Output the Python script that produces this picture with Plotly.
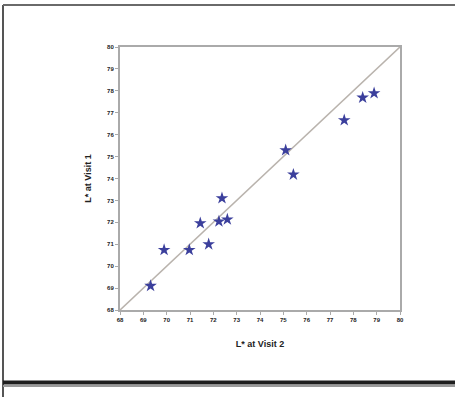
import plotly.graph_objects as go

# Data
visit2 = [69.31, 69.89, 70.97, 71.44, 71.80, 72.24, 72.37, 72.60, 75.10, 75.43, 77.61, 78.40, 78.89]
visit1 = [69.10, 70.74, 70.74, 71.96, 71.00, 72.04, 73.10, 72.13, 75.29, 74.18, 76.66, 77.69, 77.89]
identity = [68, 80]
ticks = list(range(68, 81))
x_title = "L* at Visit 2"
y_title = "L* at Visit 1"

fig = go.Figure()
fig.add_trace(go.Scatter(x=identity, y=identity, mode="lines",
                         line=dict(color="#b9b3ad", width=1.6), hoverinfo="skip"))
fig.add_trace(go.Scatter(x=visit2, y=visit1, mode="markers",
                         marker=dict(symbol="star", size=9.5, color="#3b3f9c",
                                     line=dict(width=0))))

L, R, T, B = 120, 55, 47, 87
W, H = 455, 397
pw, ph = W - L - R, H - T - B

def px(x):
    return (x - L) / pw

def py(y):
    return (H - B - y) / ph

shapes = [
    dict(type="line", xref="paper", yref="paper", x0=px(3), x1=px(3), y0=py(5), y1=py(397),
         line=dict(color="#555555", width=2)),
    dict(type="line", xref="paper", yref="paper", x0=px(3), x1=px(455), y0=py(5), y1=py(5),
         line=dict(color="#6a6a6a", width=2)),
    dict(type="line", xref="paper", yref="paper", x0=px(3), x1=px(455), y0=py(382.5), y1=py(382.5),
         line=dict(color="#1e1e1e", width=4)),
    dict(type="line", xref="paper", yref="paper", x0=px(3), x1=px(455), y0=py(386), y1=py(386),
         line=dict(color="#9a9a9a", width=2)),
]

fig.update_layout(
    width=W, height=H,
    margin=dict(l=L, r=R, t=T, b=B),
    paper_bgcolor="white", plot_bgcolor="white",
    showlegend=False,
    shapes=shapes,
    font=dict(family="Liberation Sans, Arial, sans-serif", color="#222222"),
)
axis_common = dict(
    range=[68, 80], tickvals=ticks, ticktext=["<b>" + str(t) + "</b>" for t in ticks],
    showgrid=False, zeroline=False, showline=True, mirror=True,
    linecolor="#aaaaaa", linewidth=2, ticks="outside", ticklen=3, tickcolor="#aaaaaa",
    tickfont=dict(size=6, color="#222222", family="Liberation Sans, Arial, sans-serif"),
)
fig.update_xaxes(**axis_common, title=dict(text="<b>" + x_title + "</b>", font=dict(size=9), standoff=18))
fig.update_yaxes(**axis_common, title=dict(text="<b>" + y_title + "</b>", font=dict(size=9), standoff=14))

fig.write_html("out.html")
